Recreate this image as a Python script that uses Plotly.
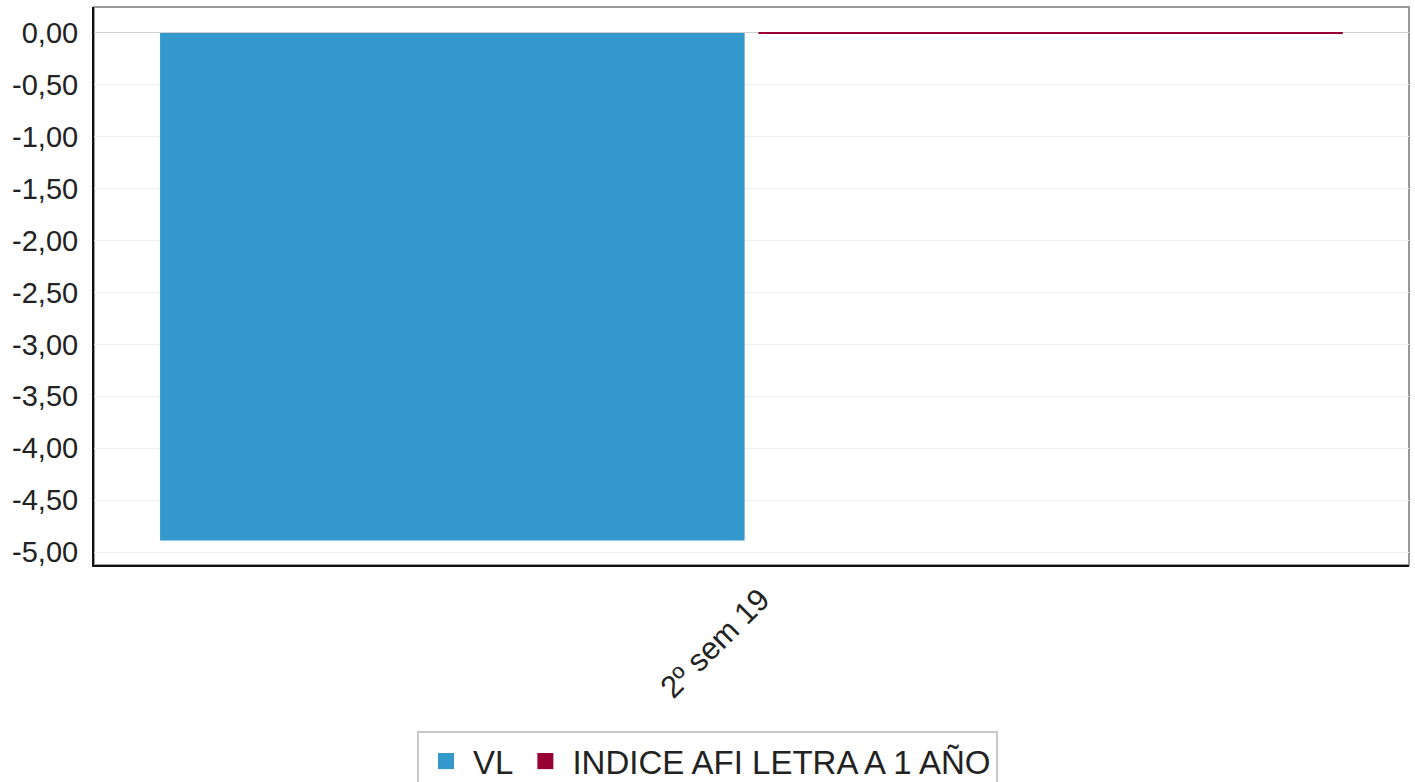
import plotly.graph_objects as go

categories = ["2º sem 19"]
vl_values = [-4.89]
indice_values = [-0.01]
series_names = ["VL", "INDICE AFI LETRA A 1 AÑO"]
series_colors = ["#3399cc", "#990033"]
tick_vals = [0, -0.5, -1, -1.5, -2, -2.5, -3, -3.5, -4, -4.5, -5]
tick_text = [f"{v:.2f}".replace(".", ",") for v in tick_vals]

fig = go.Figure()
for name, vals, col in zip(series_names, [vl_values, indice_values], series_colors):
    fig.add_trace(go.Bar(x=categories, y=vals, name=name, showlegend=False,
                         marker=dict(color=col, line=dict(width=0))))
# legend entries with larger square swatches
for name, col in zip(series_names, series_colors):
    fig.add_trace(go.Scatter(x=[None], y=[None], mode="markers", name=name,
                             marker=dict(symbol="square", size=24, color=col)))

fig.update_layout(
    width=1415, height=782,
    margin=dict(l=94, r=6, t=7, b=217),
    paper_bgcolor="white", plot_bgcolor="white",
    barmode="group", bargap=0.09, bargroupgap=0.023,
    font=dict(family="Liberation Sans, Arial, sans-serif", size=29, color="#222"),
    showlegend=True,
    legend=dict(orientation="h", xref="container", yref="container",
                x=0.5, xanchor="center", y=0.065, yanchor="top",
                bordercolor="#c8c8c8", borderwidth=2,
                font=dict(size=33, color="#222"),
                itemsizing="trace", itemwidth=44, tracegroupgap=0),
    shapes=[dict(type="rect", xref="paper", yref="paper", x0=0, x1=1, y0=0, y1=1,
                 line=dict(color="#999999", width=2), layer="below")],
)
fig.update_yaxes(range=[-5.125, 0.25], tickvals=tick_vals, ticktext=tick_text,
                 showgrid=True, gridcolor="#efefef", gridwidth=1,
                 zeroline=True, zerolinecolor="#d0d0d0", zerolinewidth=1,
                 showline=True, linecolor="#111", linewidth=2,
                 ticks="", ticklabelstandoff=8, tickfont=dict(size=29, color="#222"))
fig.update_xaxes(showline=True, linecolor="#111", linewidth=2, tickangle=-45,
                 ticks="", ticklabelshift=9, ticklabelstandoff=2,
                 tickfont=dict(size=31, color="#222"), showgrid=False)

fig.write_html("out.html", config={"displayModeBar": False},
               post_script="document.body.style.margin='0';document.body.style.overflow='hidden';")
